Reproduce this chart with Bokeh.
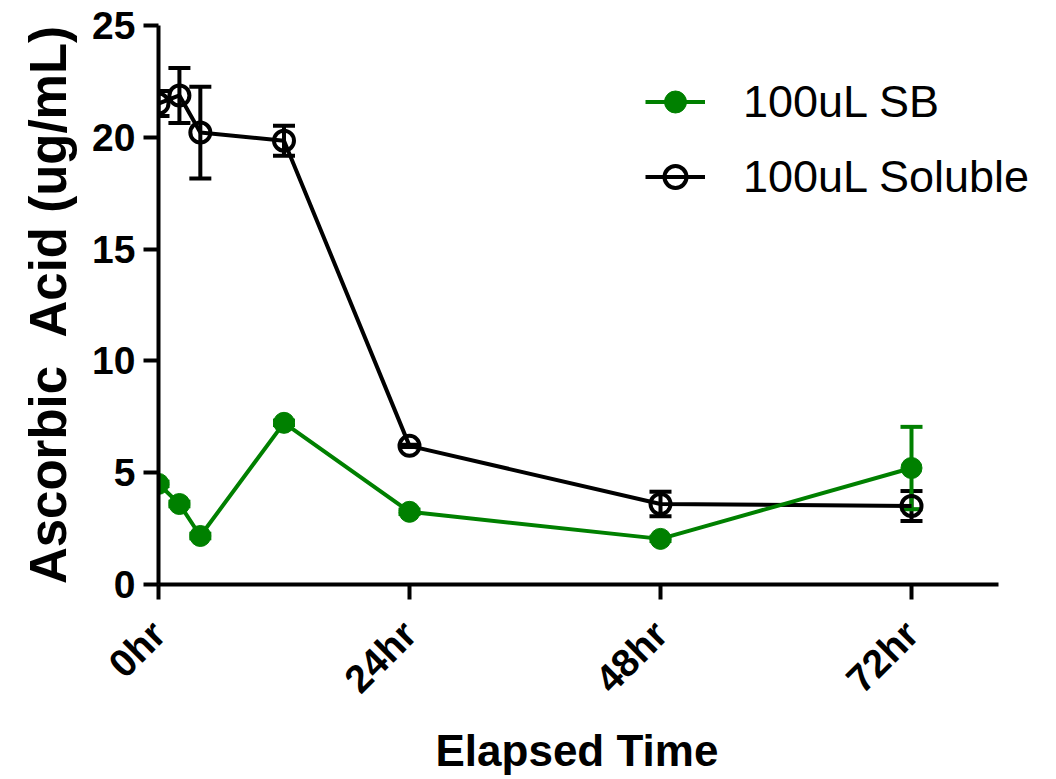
import math
from bokeh.plotting import figure
from bokeh.models import (ColumnDataSource, Range1d, FixedTicker, Whisker, TeeHead,
                          Legend, LegendItem, Title)
from bokeh.embed import file_html
from bokeh.resources import INLINE

# ---- data ----
hours = [0, 2, 4, 12, 24, 48, 72]
sb_values = [4.5, 3.6, 2.17, 7.23, 3.25, 2.04, 5.21]
sb_errors = [0.1, 0.1, 0.1, 0.1, 0.1, 0.1, 1.84]
soluble_values = [21.51, 21.87, 20.21, 19.85, 6.2, 3.6, 3.51]
soluble_errors = [0.56, 1.23, 2.05, 0.67, 0.05, 0.55, 0.67]
x_ticks = [0, 24, 48, 72]
x_tick_labels = ["0hr", "24hr", "48hr", "72hr"]
y_ticks = [0, 5, 10, 15, 20, 25]

GREEN = "#008000"
BLACK = "#000000"
FONT = "Liberation Sans"

sb_src = ColumnDataSource(dict(
    x=hours, y=sb_values,
    upper=[v + e for v, e in zip(sb_values, sb_errors)],
    lower=[v - e for v, e in zip(sb_values, sb_errors)],
))
sol_src = ColumnDataSource(dict(
    x=hours, y=soluble_values,
    upper=[v + e for v, e in zip(soluble_values, soluble_errors)],
    lower=[v - e for v, e in zip(soluble_values, soluble_errors)],
))

p = figure(width=1050, height=779, output_backend="svg", toolbar_location=None,
           x_range=Range1d(0, 83.57), y_range=Range1d(0, 25),
           min_border_left=158, min_border_right=18, min_border_top=25,
           min_border_bottom=195)
p.outline_line_color = None
p.xgrid.visible = False
p.ygrid.visible = False
p.background_fill_color = "white"

LW = 4

# soluble series
sol_line = p.line("x", "y", source=sol_src, line_color=BLACK, line_width=LW)
sol_wh = Whisker(base="x", upper="upper", lower="lower", source=sol_src,
                 line_color=BLACK, line_width=LW,
                 upper_head=TeeHead(size=22, line_color=BLACK, line_width=LW),
                 lower_head=TeeHead(size=22, line_color=BLACK, line_width=LW))
p.add_layout(sol_wh)
sol_pts = p.scatter("x", "y", source=sol_src, marker="circle", size=20,
                    fill_color=None, line_color=BLACK, line_width=LW)

# SB series
sb_line = p.line("x", "y", source=sb_src, line_color=GREEN, line_width=LW)
sb_wh = Whisker(base="x", upper="upper", lower="lower", source=sb_src,
                line_color=GREEN, line_width=LW,
                upper_head=TeeHead(size=22, line_color=GREEN, line_width=LW),
                lower_head=TeeHead(size=22, line_color=GREEN, line_width=LW))
p.add_layout(sb_wh)
sb_pts = p.scatter("x", "y", source=sb_src, marker="circle", size=21,
                   fill_color=GREEN, line_color=GREEN, line_width=1)

# axes
for ax in (p.xaxis[0], p.yaxis[0]):
    ax.axis_line_width = LW
    ax.major_tick_line_width = LW
    ax.major_tick_out = 15
    ax.major_tick_in = 0
    ax.minor_tick_line_color = None
    ax.major_label_text_font = FONT
    ax.major_label_text_font_style = "bold"
    ax.major_label_text_font_size = "39px"
    ax.major_label_text_color = BLACK
    ax.axis_label_text_font = FONT
    ax.axis_label_text_font_style = "bold"
    ax.axis_label_text_color = BLACK

p.xaxis.bounds = (0, 80.3)
p.xaxis.ticker = FixedTicker(ticks=x_ticks)
p.xaxis.major_label_overrides = {t: l for t, l in zip(x_ticks, x_tick_labels)}
p.xaxis.major_label_orientation = math.pi / 4
p.xaxis.major_label_standoff = 28

# x-axis title, centred under the drawn axis line (the frame is wider for the legend)
x_title = Title(text="Elapsed Time", align="left", offset=277,
                text_font=FONT, text_font_style="bold", text_font_size="44px",
                text_color=BLACK, standoff=8)
p.add_layout(x_title, "below")

p.yaxis.ticker = FixedTicker(ticks=y_ticks)
p.yaxis.major_label_standoff = 8
p.yaxis.axis_label = "Ascorbic \u00a0Acid (ug/mL)"
p.yaxis.axis_label_text_font_size = "51px"
p.yaxis.axis_label_standoff = 12

legend = Legend(items=[
    LegendItem(label="100uL SB", renderers=[sb_line, sb_pts]),
    LegendItem(label="100uL Soluble", renderers=[sol_line, sol_pts]),
], location=(487, 380))
legend.label_text_font = FONT
legend.label_text_font_size = "45px"
legend.label_text_color = BLACK
legend.glyph_width = 60
legend.glyph_height = 55
legend.label_height = 55
legend.label_standoff = 38
legend.spacing = 20
legend.padding = 0
legend.margin = 0
legend.border_line_color = None
legend.background_fill_alpha = 0
p.add_layout(legend)

open("out.html", "w").write(file_html(p, INLINE))
